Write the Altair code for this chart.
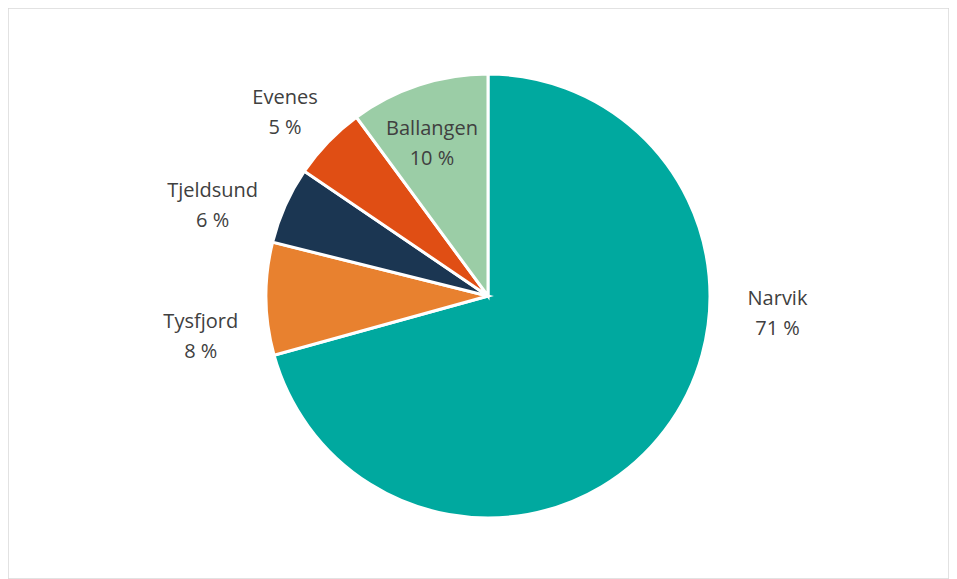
import altair as alt
import pandas as pd
import math

# Data (share of total, %)
municipalities = ["Narvik", "Tysfjord", "Tjeldsund", "Evenes", "Ballangen"]
shares = [70.7, 8.2, 5.6, 5.4, 10.1]
colors = ["#00A99F", "#E8812F", "#1B3652", "#E04E14", "#9BCDA6"]

# Label placement (Excel "best fit" style): angle in degrees clockwise from 12 o'clock, radius in px
label_angle_deg = [93.4, 262.1, 288.3, 312.2, 339.9]
label_radius = [290, 290, 290, 274, 163]

df = pd.DataFrame({
    "kommune": municipalities,
    "andel": shares,
    "order": list(range(len(municipalities))),
    "label": [f"{m}\n{round(v)} %" for m, v in zip(municipalities, shares)],
    "lt": [math.radians(a) for a in label_angle_deg],
    "lr": label_radius,
})

cx, cy = 480, 288

pie = alt.Chart(df).mark_arc(outerRadius=222, stroke="white", strokeWidth=3).encode(
    theta=alt.Theta("andel:Q", stack=True),
    order=alt.Order("order:Q"),
    color=alt.Color("kommune:N", scale=alt.Scale(domain=municipalities, range=colors), legend=None),
    x=alt.value(cx),
    y=alt.value(cy),
)

labels = alt.Chart(df).mark_text(
    font="Open Sans", fontSize=20, color="#404040", lineBreak="\n",
    lineHeight=30, align="center", baseline="middle", dy=-14,
).encode(
    theta=alt.Theta("lt:Q", scale=None, stack=False),
    radius=alt.Radius("lr:Q", scale=None),
    text="label:N",
    x=alt.value(cx),
    y=alt.value(cy),
)

chart = alt.layer(pie, labels).properties(
    width=941, height=571,
    autosize=alt.AutoSizeParams(type="fit", contains="padding"),
    padding=0,
).configure_view(stroke="#D9D9D9", strokeWidth=1.5)

chart.save("out.html", embed_options={"renderer": "svg", "actions": False})
